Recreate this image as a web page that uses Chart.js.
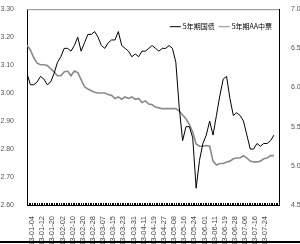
<!DOCTYPE html>
<html>
<head>
<meta charset="utf-8">
<script src="https://cdn.jsdelivr.net/npm/chart.js@4.4.1/dist/chart.umd.min.js"></script>
<style>
  html, body { margin: 0; padding: 0; background: #fff; }
  canvas { display: block; }
</style>
</head>
<body>
<canvas id="bondChart" width="300" height="244"></canvas>
<script>
// date labels, one every 6 trading days
const tickLabels = ['13-01-04', '13-01-12', '13-01-20', '13-02-02', '13-02-10', '13-02-20',
  '13-02-28', '13-03-07', '13-03-15', '13-03-23', '13-03-31', '13-04-11',
  '13-04-19', '13-04-27', '13-05-08', '13-05-16', '13-05-24', '13-06-01',
  '13-06-11', '13-06-19', '13-06-28', '13-07-06', '13-07-16', '13-07-24'];
const tickEvery = 6;
const lastDay = 149;
const sampleEvery = 2; // values read every 2 trading days

// 5年期国债 (left axis)
const govYield = [3.07, 3.03, 3.03, 3.04, 3.06, 3.05, 3.03, 3.04, 3.07, 3.11,
  3.13, 3.16, 3.16, 3.15, 3.17, 3.20, 3.15, 3.18, 3.21, 3.21,
  3.22, 3.20, 3.17, 3.16, 3.18, 3.19, 3.19, 3.22, 3.17, 3.16,
  3.15, 3.13, 3.14, 3.13, 3.15, 3.15, 3.16, 3.17, 3.16, 3.15,
  3.16, 3.16, 3.17, 3.16, 3.11, 2.95, 2.83, 2.88, 2.88, 2.84,
  2.66, 2.76, 2.82, 2.85, 2.90, 2.85, 2.92, 2.99, 3.05, 3.06,
  2.98, 2.92, 2.93, 2.92, 2.90, 2.85, 2.80, 2.80, 2.82, 2.81,
  2.82, 2.82, 2.83, 2.85];
// 5年期AA中票 (right axis)
const mtnYield = [6.54, 6.48, 6.38, 6.31, 6.29, 6.29, 6.28, 6.24, 6.20, 6.15,
  6.15, 6.20, 6.21, 6.15, 6.21, 6.19, 6.10, 6.01, 5.98, 5.96,
  5.94, 5.93, 5.93, 5.93, 5.91, 5.90, 5.86, 5.88, 5.85, 5.88,
  5.86, 5.88, 5.85, 5.86, 5.81, 5.83, 5.79, 5.78, 5.75, 5.74,
  5.73, 5.73, 5.73, 5.73, 5.73, 5.70, 5.65, 5.60, 5.53, 5.43,
  5.28, 5.25, 5.25, 5.26, 5.25, 5.06, 5.01, 5.03, 5.03, 5.05,
  5.06, 5.09, 5.10, 5.10, 5.13, 5.10, 5.06, 5.05, 5.05, 5.06,
  5.09, 5.10, 5.13, 5.13];

const toPoints = arr => arr.map((v, k) => ({x: k * sampleEvery, y: v}));

const framePlugin = {
  id: 'frame',
  afterDraw(chart) {
    const {ctx, chartArea: a} = chart;
    const x = chart.scales.x;
    ctx.save();
    // top border
    ctx.strokeStyle = '#8c8c8c';
    ctx.lineWidth = 1;
    ctx.beginPath();
    ctx.moveTo(a.left, a.top + 0.5);
    ctx.lineTo(a.right, a.top + 0.5);
    ctx.stroke();
    // small tick for every trading day
    ctx.strokeStyle = '#000';
    ctx.beginPath();
    for (let i = 0; i <= lastDay; i++) {
      const px = Math.round(x.getPixelForValue(i)) + 0.5;
      ctx.moveTo(px, a.bottom);
      ctx.lineTo(px, a.bottom - 2);
    }
    ctx.stroke();
    // legend
    ctx.font = '7px "Noto Sans CJK SC"';
    ctx.textBaseline = 'middle';
    const sets = chart.data.datasets;
    const lineLen = 11;
    let total = 0;
    sets.forEach((d, i) => { total += lineLen + 2 + ctx.measureText(d.label).width + (i < sets.length - 1 ? 4 : 0); });
    let lx = a.right - 7 - total;
    const ly = a.top + 17;
    sets.forEach(d => {
      ctx.strokeStyle = d.borderColor;
      ctx.lineWidth = 1;
      ctx.beginPath();
      ctx.moveTo(lx, ly + 0.5);
      ctx.lineTo(lx + lineLen, ly + 0.5);
      ctx.stroke();
      lx += lineLen + 2;
      ctx.fillStyle = '#000';
      ctx.fillText(d.label, lx, ly);
      lx += ctx.measureText(d.label).width + 4;
    });
    // bottom frame line
    ctx.fillStyle = '#000';
    ctx.fillRect(0, chart.height - 3, chart.width, 2);
    ctx.restore();
  }
};

const ctx = document.getElementById('bondChart').getContext('2d');

const config = {
  type: 'line',
  data: {
    datasets: [
      {
        label: '5年期国债',
        data: toPoints(govYield),
        yAxisID: 'y',
        borderColor: '#000000',
        borderWidth: 1,
      },
      {
        label: '5年期AA中票',
        data: toPoints(mtnYield),
        yAxisID: 'y1',
        borderColor: '#8a8a8a',
        borderWidth: 1.6,
      }
    ]
  },
  options: {
    responsive: false,
    animation: false,
    devicePixelRatio: 1,
    layout: {padding: {top: 5, left: 0, right: 0, bottom: 0}},
    elements: {point: {radius: 0}, line: {tension: 0}},
    plugins: {legend: {display: false}, tooltip: {enabled: false}},
    scales: {
      x: {
        type: 'linear',
        min: 0,
        max: lastDay,
        grid: {display: false},
        border: {color: '#000', width: 1},
        afterBuildTicks: s => { s.ticks = tickLabels.map((_, k) => ({value: k * tickEvery})); },
        afterFit: s => { s.height = 39; },
        ticks: {
          autoSkip: false,
          minRotation: 90,
          maxRotation: 90,
          padding: 3,
          labelOffset: 5,
          color: '#444',
          font: {family: 'Liberation Sans', size: 7.5},
          callback: v => tickLabels[Math.round(v / tickEvery)]
        }
      },
      y: {
        position: 'left',
        min: 2.6,
        max: 3.3,
        grid: {display: false},
        border: {color: '#000', width: 1},
        afterFit: s => { s.width = 27; },
        ticks: {
          stepSize: 0.1,
          padding: 5,
          color: '#555',
          font: {family: 'Liberation Sans', size: 7},
          callback: v => v.toFixed(2)
        }
      },
      y1: {
        position: 'right',
        min: 4.5,
        max: 7.0,
        grid: {display: false},
        border: {color: '#000', width: 1},
        afterFit: s => { s.width = 21; },
        ticks: {
          stepSize: 0.5,
          padding: 4,
          color: '#555',
          font: {family: 'Liberation Sans', size: 7},
          callback: v => v.toFixed(2)
        }
      }
    }
  },
  plugins: [framePlugin]
};

const bondChart = new Chart(ctx, config);
</script>
</body>
</html>
